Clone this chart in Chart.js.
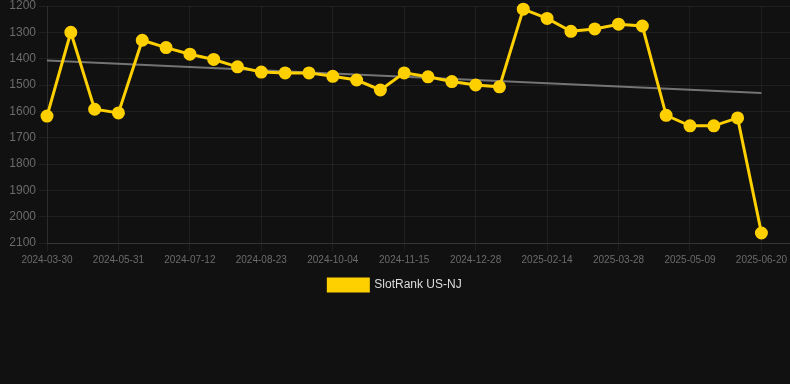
<!DOCTYPE html>
<html>
<head>
<meta charset="utf-8">
<script src="https://cdn.jsdelivr.net/npm/chart.js@4"></script>
<style>
  html, body { margin: 0; padding: 0; background: #111111; }
  #wrap { position: relative; width: 790px; height: 301px; }
</style>
</head>
<body>
<div id="wrap"><canvas id="c"></canvas></div>
<script>
// rank per snapshot (lower = better, axis reversed)
const dates = [
  '2024-03-30', '2024-04-13', '2024-05-03', '2024-05-31', '2024-06-14', '2024-06-28',
  '2024-07-12', '2024-07-26', '2024-08-09', '2024-08-23', '2024-09-06', '2024-09-20',
  '2024-10-04', '2024-10-18', '2024-11-01', '2024-11-15', '2024-11-29', '2024-12-13',
  '2024-12-28', '2025-01-17', '2025-01-31', '2025-02-14', '2025-02-28', '2025-03-14',
  '2025-03-28', '2025-04-11', '2025-04-25', '2025-05-09', '2025-05-23', '2025-06-06',
  '2025-06-20',
];
const ranks = [
  1618, 1300, 1592, 1606, 1330, 1358, 1383, 1403, 1431, 1451, 1454,
  1454, 1467, 1481, 1519, 1454, 1469, 1487, 1500, 1507, 1212, 1247,
  1296, 1287, 1269, 1276, 1615, 1655, 1655, 1625, 2062,
];
const trendEnds = [1407, 1530];
const yTicks = [1200, 1300, 1400, 1500, 1600, 1700, 1800, 1900, 2000, 2100];

const YELLOW = '#ffd000';
const GRID = 'rgba(255,255,255,0.06)';
const TICK = '#6b6b6b';
const FONT = "Arial, 'Liberation Sans', sans-serif";

const ctx = document.getElementById('c').getContext('2d');
new Chart(ctx, {
  type: 'line',
  data: {
    datasets: [
      {
        label: 'SlotRank US-NJ',
        data: ranks.map((v, i) => ({ x: i, y: v })),
        borderColor: YELLOW,
        backgroundColor: YELLOW,
        borderWidth: 3,
        pointRadius: 5,
        pointBackgroundColor: YELLOW,
        pointBorderColor: YELLOW,
        tension: 0,
        clip: false,
        order: 1,
      },
      {
        label: 'trend',
        data: [{ x: 0, y: trendEnds[0] }, { x: ranks.length - 1, y: trendEnds[1] }],
        borderColor: 'rgba(150,150,150,0.75)',
        borderWidth: 2,
        pointRadius: 0,
        order: 2,
      },
    ],
  },
  options: {
    responsive: true,
    maintainAspectRatio: false,
    animation: false,
    layout: { autoPadding: false, padding: 0 },
    plugins: {
      legend: {
        position: 'bottom',
        labels: {
          color: '#dddddd',
          font: { family: FONT, size: 12 },
          boxWidth: 40,
          boxHeight: 12,
          filter: item => item.text !== 'trend',
        },
      },
      tooltip: { enabled: false },
    },
    scales: {
      x: {
        type: 'linear',
        min: 0,
        max: 31.2,
        grid: { color: GRID, tickLength: 8 },
        border: { color: 'rgba(255,255,255,0.1)' },
        afterFit: s => { s.paddingRight = 0; },
        ticks: {
          stepSize: 3,
          includeBounds: false,
          autoSkip: false,
          maxRotation: 0,
          color: TICK,
          font: { family: FONT, size: 10 },
          callback: v => dates[v] ?? null,
        },
      },
      y: {
        reverse: true,
        min: yTicks[0],
        max: yTicks[yTicks.length - 1],
        grid: { color: GRID, tickLength: 8 },
        border: { color: GRID },
        afterBuildTicks: axis => { axis.ticks = yTicks.map(v => ({ value: v })); },
        afterFit: s => { s.paddingTop = 6; s.width = 47; },
        ticks: {
          color: TICK,
          font: { family: FONT, size: 12 },
          callback: v => String(v),
        },
      },
    },
  },
});
</script>
</body>
</html>
